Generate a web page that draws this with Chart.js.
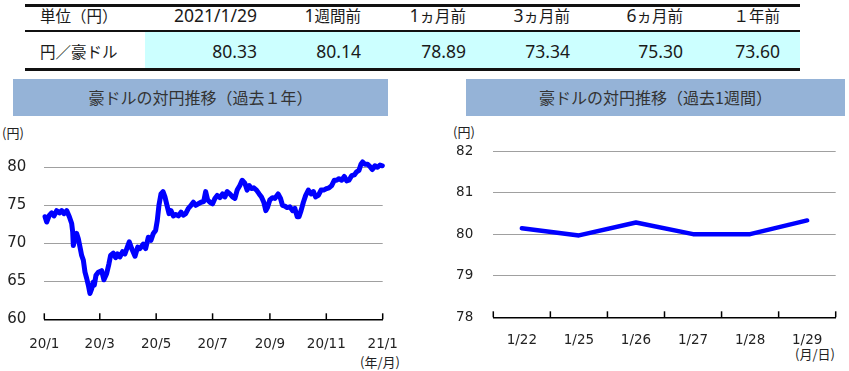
<!DOCTYPE html>
<html><head><meta charset="utf-8">
<script src="https://cdn.jsdelivr.net/npm/chart.js@4"></script>
<style>
body{margin:0;width:849px;height:371px;background:#fff;position:relative;overflow:hidden;font-family:"Noto Sans","Noto Sans CJK JP",sans-serif;color:#1a1a1a}
.a{position:absolute;white-space:nowrap}
.hd{font-family:"Noto Sans CJK JP",sans-serif;font-size:15.5px;top:3px;height:24px;line-height:24px;text-align:right}
.hd .num{font-family:"Noto Sans",sans-serif;font-size:17.5px}
.vl{font-family:"Noto Sans",sans-serif;font-size:17.5px;top:39px;height:24px;line-height:24px;text-align:right}
.bar{background:#95b3d7;top:79px;height:37px;line-height:37px;text-align:center;font-family:"Noto Sans CJK JP",sans-serif;font-size:16px;color:#333}
.unit{font-family:"Noto Sans CJK JP",sans-serif;font-size:13px;color:#222;line-height:16px}
canvas{position:absolute}
</style></head><body>
<div class="a" style="left:145px;top:32px;width:655px;height:36px;background:#ccffff"></div>
<div class="a" style="left:25px;top:4px;width:775px;height:3px;background:#111"></div>
<div class="a" style="left:25px;top:30px;width:775px;height:2px;background:#111"></div>
<div class="a" style="left:25px;top:68px;width:775px;height:3px;background:#111"></div>
<div id="table"></div>

<div class="a bar" style="left:13px;width:375px">豪ドルの対円推移（過去１年）</div>
<div class="a bar" style="left:466px;width:379px">豪ドルの対円推移（過去1週間）</div>
<div class="a unit" style="left:2px;top:125px">(円)</div>
<div class="a unit" style="left:453px;top:124px">(円)</div>
<div class="a unit" style="left:360px;top:354px">(年/月)</div>
<div class="a unit" style="left:795px;top:346px">(月/日)</div>

<canvas id="c1" width="400" height="251" style="left:0;top:120px"></canvas>
<canvas id="c2" width="409" height="251" style="left:440px;top:120px"></canvas>
<script>
// ---- table data ----
const rowLabel = "円／豪ドル";
const unitLabel = "単位（円）";
const tableHeaders = ["2021/1/29", "1週間前", "1ヵ月前", "3ヵ月前", "6ヵ月前", "１年前"];
const tableValues = ["80.33", "80.14", "78.89", "73.34", "75.30", "73.60"];

// ---- 1-year chart data (days since 2020/1/1) ----
const yearDays = [0.8,2.6,5.5,8,10.5,13.4,16.3,18.8,21.3,24.2,27.1,29.6,30.7,31.4,33.2,35,36.8,38.6,40.4,42.2,44,45.8,47.6,49.4,51.2,53,54.1,55.9,58.4,62,64.5,67.4,69.9,71.7,74.6,77.1,79.3,81.8,84.7,87.2,89.8,91.9,94.5,98.1,101,103.5,107.1,109.6,112.5,115.4,117.9,120.4,122.2,124,126.2,128.4,130.5,132.7,134.9,137,139.6,142.1,145,147.9,150.4,152.9,155.8,158.7,161.2,163.7,166.6,169.5,172.4,174.5,176.7,179.2,182,184.5,187,189.9,192.8,195.3,197.8,200.7,203.6,206.1,208.6,211.5,214,216.9,219.4,221.6,224.1,226.6,229.5,232.4,234.9,237.4,239.6,241.4,243.9,246.8,249.3,252.9,255.5,257.6,260.2,262.7,265.6,268.5,271,273.5,275.5,277.7,280.2,282.7,285.6,288.5,291,293.5,296.4,299.3,302.2,305.4,307.9,310.8,313.7,316.2,318.7,321.6,324.5,327,329.5,332.4,335.3,337.8,340.3,342.5,344.3,346.8,349.7,352.2,354.7,357.6,360.5,363.1,365.6];
const yearValues = [73.5,72.8,73.7,74.0,73.6,74.3,74.0,74.3,73.9,74.3,73.5,72.6,71.5,69.7,70.8,71.3,70.6,69.5,68.4,67.8,66.2,65.4,64.5,63.4,64.0,64.9,64.5,65.8,66.2,66.4,65.2,66.0,67.3,68.4,68.7,68.1,68.6,68.2,68.9,68.6,69.5,70.2,69.3,68.3,69.5,69.3,69.9,69.3,70.8,70.4,71.3,71.7,73.0,75.0,76.5,76.8,76.1,75.0,73.9,74.3,73.6,73.8,73.6,74.1,73.7,73.9,74.6,75.0,75.4,75.0,75.2,75.4,75.5,76.8,75.7,75.4,75.2,75.9,76.3,76.0,76.5,76.1,76.8,76.5,76.1,75.9,77.0,77.6,78.3,77.9,77.0,77.6,77.2,77.3,77.0,76.5,76.1,75.4,74.3,74.7,75.7,76.0,75.9,76.5,75.9,75.0,74.9,74.7,74.8,74.3,74.6,73.5,73.5,74.3,75.4,76.3,77.0,76.5,76.8,76.1,76.3,77.0,77.0,77.2,77.3,77.6,78.3,78.3,78.5,78.3,78.8,78.2,78.3,78.9,79.0,79.4,79.6,80.4,80.7,80.4,80.4,80.1,79.7,80.2,80.0,80.3,80.2];
const yearTickDays = [0, 60, 121, 182, 244, 305, 366];
const yearTickLabels = ["20/1", "20/3", "20/5", "20/7", "20/9", "20/11", "21/1"];
const yearYMin = 60, yearYMax = 80, yearYStep = 5;

// ---- 1-week chart data ----
const weekLabels = ["1/22", "1/25", "1/26", "1/27", "1/28", "1/29"];
const weekValues = [80.14, 79.97, 80.28, 80.00, 80.00, 80.33];
const weekYMin = 78, weekYMax = 82, weekYStep = 1;

// build table
const tbl = document.getElementById('table');
const colRight = [257, 361, 466, 570, 683, 780];
function fillText(d, text){
  text.split(/([0-9.\/]+)/).forEach(part => {
    if (!part) return;
    if (/^[0-9.\/]+$/.test(part)) { const s = document.createElement('span'); s.className = 'num'; s.textContent = part; d.appendChild(s); }
    else d.appendChild(document.createTextNode(part));
  });
}
function addCell(cls, text, right){
  const d = document.createElement('div');
  d.className = 'a ' + cls; fillText(d, text);
  d.style.right = (849 - right) + 'px';
  tbl.appendChild(d);
}
function addLeft(text, top){
  const d = document.createElement('div'); d.className = 'a hd';
  d.style.top = top + 'px'; d.style.left = '40px'; d.style.textAlign = 'left'; d.textContent = text; tbl.appendChild(d);
}
addLeft(unitLabel, 3);
addLeft(rowLabel, 39);
tableHeaders.forEach((h,i)=>addCell('hd', h, colRight[i]));
tableValues.forEach((v,i)=>addCell('vl', v, colRight[i]));

const insideTicks = {
  id: 'insideTicks',
  afterDraw(chart, args, opts) {
    const xs = chart.scales.x, ctx = chart.ctx, b = chart.chartArea.bottom;
    let pos;
    if (opts.boundaries) {
      pos = [];
      for (let i = 0; i <= chart.data.labels.length; i++) pos.push(xs.getPixelForValue(i - 0.5));
    } else {
      pos = xs.ticks.map(t => xs.getPixelForValue(t.value));
    }
    ctx.save(); ctx.strokeStyle = '#000'; ctx.lineWidth = 1.5;
    pos.forEach(p => { ctx.beginPath(); ctx.moveTo(p, b); ctx.lineTo(p, b - opts.len); ctx.stroke(); });
    ctx.restore();
  }
};

const tickColor = '#222';
const gridColor = '#a0a0a0';

new Chart(document.getElementById('c1'), {
  type: 'line',
  data: { datasets: [{ data: yearDays.map((d,i)=>({x:d, y:yearValues[i]})), borderColor: '#0000ff', borderWidth: 5, pointRadius: 0, tension: 0, clip: false, borderJoinStyle: 'round', borderCapStyle: 'round' }] },
  options: {
    responsive: false, animation: false,
    layout: { padding: { top: 47.3, right: 17.3, left: 0, bottom: 0 } },
    plugins: { legend: { display: false }, tooltip: { enabled: false }, insideTicks: { len: 6 } },
    scales: {
      x: { type: 'linear', min: yearTickDays[0], max: yearTickDays[yearTickDays.length-1],
        afterBuildTicks: s => { s.ticks = yearTickDays.map(v => ({ value: v })); },
        afterFit: s => { s.height = 51.7; s.paddingLeft = 0; s.paddingRight = 0; },
        grid: { display: false, drawTicks: false },
        border: { display: true, color: '#000', width: 1.5 },
        ticks: { padding: 17, autoSkip: false, maxRotation: 0, color: tickColor, font: { family: 'DejaVu Sans', size: 13.5 },
          callback: (v) => { const i = yearTickDays.indexOf(v); return i >= 0 ? yearTickLabels[i] : ''; } }
      },
      y: { min: yearYMin, max: yearYMax,
        afterFit: s => { s.width = 44.3; },
        grid: { drawTicks: false, color: c => c.tick.value === yearYMin ? 'rgba(0,0,0,0)' : gridColor, lineWidth: 1 },
        border: { display: false },
        ticks: { stepSize: yearYStep, padding: 18, color: tickColor, font: { family: 'DejaVu Sans', size: 15 } }
      }
    }
  },
  plugins: [insideTicks]
});

new Chart(document.getElementById('c2'), {
  type: 'line',
  data: { labels: weekLabels, datasets: [{ data: weekValues, borderColor: '#0000ff', borderWidth: 4.5, pointRadius: 0, tension: 0, clip: false, borderJoinStyle: 'round', borderCapStyle: 'round' }] },
  options: {
    responsive: false, animation: false,
    layout: { padding: { top: 31, right: 13.3, left: 0, bottom: 0 } },
    plugins: { legend: { display: false }, tooltip: { enabled: false }, insideTicks: { len: 6, boundaries: true } },
    scales: {
      x: { offset: true,
        afterFit: s => { s.height = 53.7; s.paddingLeft = 0; s.paddingRight = 0; },
        grid: { display: false, drawTicks: false },
        border: { display: true, color: '#000', width: 1.5 },
        ticks: { padding: 15.5, autoSkip: false, maxRotation: 0, color: tickColor, font: { family: 'DejaVu Sans', size: 13.5 } }
      },
      y: { min: weekYMin, max: weekYMax,
        afterFit: s => { s.width = 53.3; },
        grid: { drawTicks: false, color: c => c.tick.value === weekYMin ? 'rgba(0,0,0,0)' : gridColor, lineWidth: 1 },
        border: { display: false },
        ticks: { stepSize: weekYStep, padding: 20, color: tickColor, font: { family: 'DejaVu Sans', size: 13.5 } }
      }
    }
  },
  plugins: [insideTicks]
});
</script>
</body></html>
